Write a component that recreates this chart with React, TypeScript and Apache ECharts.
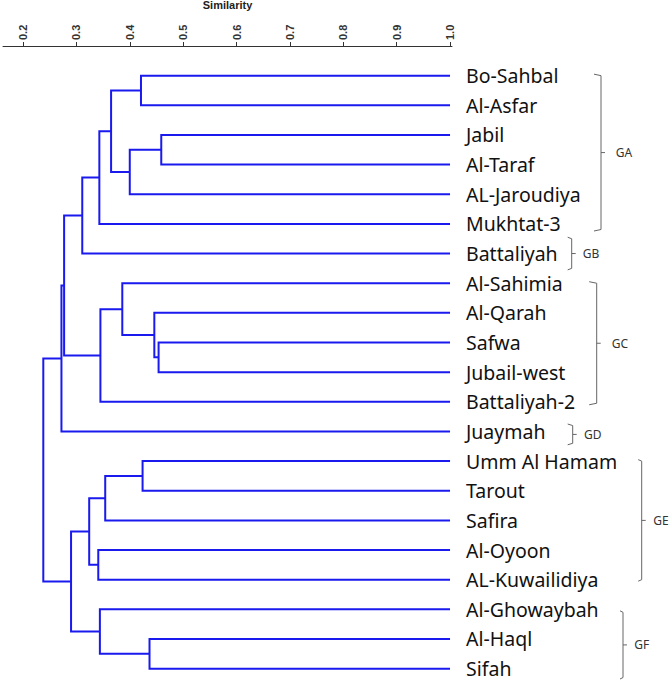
import React, { useEffect, useRef } from "react";
import * as echarts from "echarts";

// ---- data ----
const leaves = [
  "Bo-Sahbal", "Al-Asfar", "Jabil", "Al-Taraf", "AL-Jaroudiya", "Mukhtat-3",
  "Battaliyah", "Al-Sahimia", "Al-Qarah", "Safwa", "Jubail-west", "Battaliyah-2",
  "Juaymah", "Umm Al Hamam", "Tarout", "Safira", "Al-Oyoon", "AL-Kuwailidiya",
  "Al-Ghowaybah", "Al-Haql", "Sifah",
];

// merges: [child A, child B, similarity]; "m<k>" refers to merge k
const merges: [string, string, number][] = [
  ["Bo-Sahbal", "Al-Asfar", 0.421],
  ["Jabil", "Al-Taraf", 0.459],
  ["m1", "AL-Jaroudiya", 0.4],
  ["m0", "m2", 0.365],
  ["m3", "Mukhtat-3", 0.343],
  ["m4", "Battaliyah", 0.311],
  ["Safwa", "Jubail-west", 0.454],
  ["Al-Qarah", "m6", 0.446],
  ["Al-Sahimia", "m7", 0.386],
  ["m8", "Battaliyah-2", 0.345],
  ["m5", "m9", 0.277],
  ["m10", "Juaymah", 0.272],
  ["Umm Al Hamam", "Tarout", 0.424],
  ["m12", "Safira", 0.354],
  ["Al-Oyoon", "AL-Kuwailidiya", 0.341],
  ["m13", "m14", 0.324],
  ["Al-Haql", "Sifah", 0.437],
  ["Al-Ghowaybah", "m16", 0.344],
  ["m15", "m17", 0.29],
  ["m11", "m18", 0.238],
];

const tickValues = [0.2, 0.3, 0.4, 0.5, 0.6, 0.7, 0.8, 0.9, 1.0];

const groupNames = ["GA", "GB", "GC", "GD", "GE", "GF"];
const groupFirst = [0, 6, 7, 12, 13, 18];
const groupLast = [5, 6, 11, 12, 17, 20];

// ---- bracket styling (positions, not data) ----
const bracketX = [601, 571.7, 596.7, 572.7, 641.7, 623];
const bracketHook = [7, 4, 7.5, 5, 3.5, 3];
const bracketPadTop = [-0.05, -0.55, -0.05, -0.25, -0.05, 0.05];
const bracketPadBot = [0.24, 0.55, 0.1, 0.45, 0.05, 0.35];
const bracketLabelGap = [14.7, 11, 15, 11.3, 11.6, 11.3];

function buildSegments() {
  const pos: Record<string, { x: number; y: number }> = {};
  leaves.forEach((n, i) => (pos[n] = { x: 1.0, y: i }));
  const segs: number[][] = [];
  merges.forEach(([a, b, h], k) => {
    const A = pos[a];
    const B = pos[b];
    segs.push([A.x, A.y, h, B.x, B.y]);
    pos["m" + k] = { x: h, y: (A.y + B.y) / 2 };
  });
  return segs;
}

export default function App() {
  const ref = useRef<HTMLDivElement>(null);
  useEffect(() => {
    document.body.style.margin = "0";
    const chart = echarts.init(ref.current!, null, { renderer: "svg" });
    const segs = buildSegments();
    const bracketData = groupNames.map((_, i) => [
      groupFirst[i] + bracketPadTop[i],
      groupLast[i] + bracketPadBot[i],
    ]);
    chart.setOption({
      animation: false,
      grid: { left: 3, right: 217, top: 46, bottom: 0.5, containLabel: false, outerBoundsMode: "none" },
      xAxis: {
        type: "value",
        position: "top",
        min: 0.1625,
        max: 1.0037,
        name: "Similarity",
        nameLocation: "middle",
        nameGap: 36,
        nameTextStyle: { fontSize: 11, fontWeight: "bold", fontFamily: "Liberation Sans", color: "#222" },
        axisLine: { show: true, onZero: false, lineStyle: { color: "#333", width: 1 } },
        axisTick: { show: true, length: 4, customValues: tickValues, lineStyle: { color: "#333" } },
        axisLabel: {
          customValues: tickValues,
          rotate: -90,
          margin: 6,
          formatter: (v: number) => v.toFixed(1),
          fontSize: 11,
          fontWeight: "bold",
          fontFamily: "Liberation Sans",
          color: "#333",
        },
        splitLine: { show: false },
      },
      yAxis: {
        type: "value",
        inverse: true,
        position: "right",
        min: -1,
        max: 20.4,
        axisLine: { show: false, onZero: false },
        axisTick: { show: false },
        splitLine: { show: false },
        axisLabel: {
          customValues: leaves.map((_, i) => i),
          formatter: (v: number) => leaves[Math.round(v)] ?? "",
          margin: 14,
          fontSize: 19.5,
          fontFamily: "Noto Sans",
          color: "#111",
        },
      },
      series: [
        {
          type: "custom",
          coordinateSystem: "cartesian2d",
          encode: { x: [0, 2, 3], y: [1, 4] },
          data: segs,
          renderItem: (_p: any, api: any) => {
            const xa = api.value(0), ya = api.value(1), h = api.value(2), xb = api.value(3), yb = api.value(4);
            return {
              type: "polyline",
              shape: { points: [api.coord([xa, ya]), api.coord([h, ya]), api.coord([h, yb]), api.coord([xb, yb])] },
              style: { stroke: "#1a1aee", lineWidth: 2, fill: null },
            };
          },
        },
        {
          type: "custom",
          coordinateSystem: "cartesian2d",
          encode: { y: [0, 1] },
          data: bracketData,
          renderItem: (p: any, api: any) => {
            const i = p.dataIndex;
            const top = api.coord([1, api.value(0)])[1];
            const bot = api.coord([1, api.value(1)])[1];
            const x = bracketX[i];
            const hk = bracketHook[i];
            const mid = (top + bot) / 2;
            return {
              type: "group",
              children: [
                {
                  type: "polyline",
                  shape: { points: [[x - hk, top], [x, top + 1.5], [x, bot - 1.5], [x - hk, bot]] },
                  style: { stroke: "#666", lineWidth: 1, fill: null },
                },
                {
                  type: "line",
                  shape: { x1: x, y1: mid, x2: x + 4, y2: mid },
                  style: { stroke: "#666", lineWidth: 1 },
                },
                {
                  type: "text",
                  x: x + bracketLabelGap[i],
                  y: mid,
                  style: {
                    text: groupNames[i],
                    fontSize: 12,
                    fontFamily: "Noto Sans",
                    fill: "#333",
                    verticalAlign: "middle",
                    align: "left",
                  },
                },
              ],
            };
          },
        },
      ],
    });
    return () => chart.dispose();
  }, []);
  return <div ref={ref} style={{ width: 669, height: 681 }} />;
}
